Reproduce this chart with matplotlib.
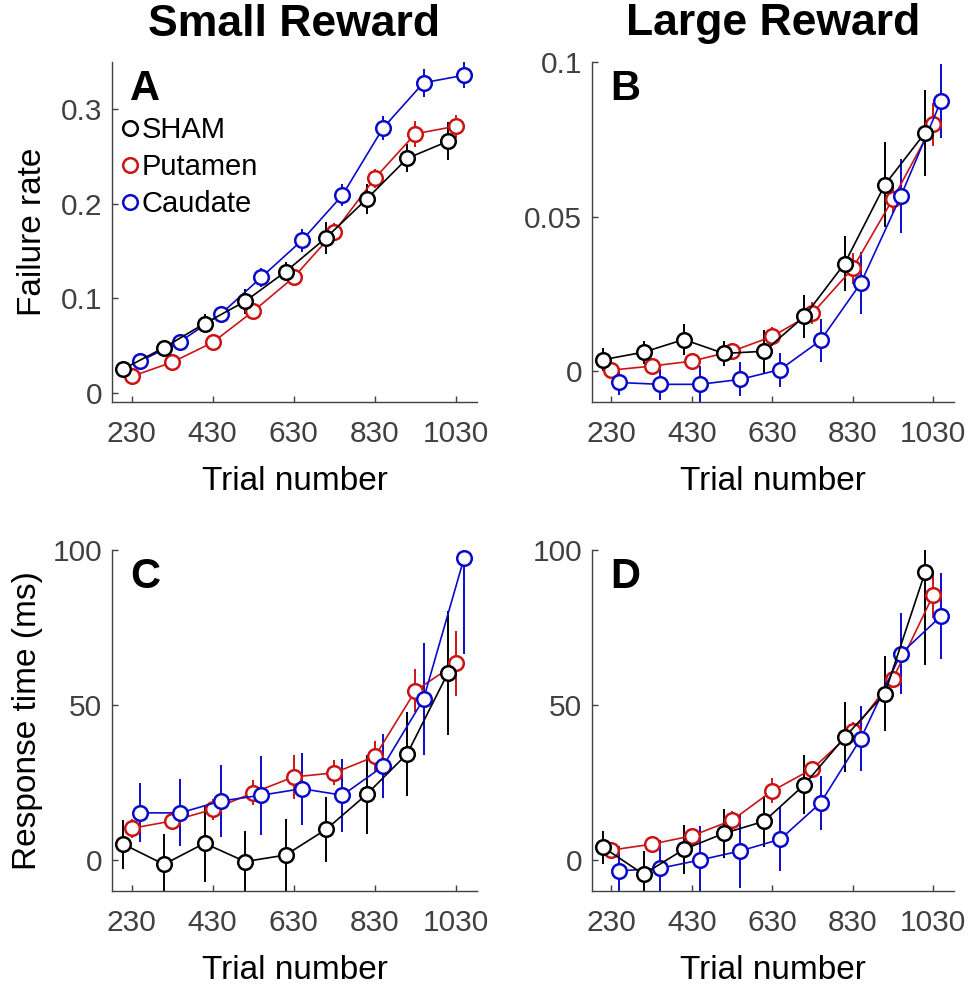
import matplotlib
matplotlib.use("Agg")
from matplotlib import pyplot as plt
from matplotlib.lines import Line2D
import numpy as np

plt.rcParams['font.family'] = ['Liberation Sans', 'DejaVu Sans']

trials = np.array([230, 330, 430, 530, 630, 730, 830, 930, 1030])
offsets = {"SHAM": -20, "Putamen": 0, "Caudate": 20}
colors = {"SHAM": "black", "Putamen": "#CC1414", "Caudate": "#0A0ACC"}

# Failure rate, small reward (A)
fail_small = {
    "SHAM": [0.025, 0.0475, 0.073, 0.0965, 0.128, 0.164, 0.205, 0.248, 0.266],
    "Putamen": [0.017, 0.032, 0.053, 0.086, 0.122, 0.170, 0.227, 0.274, 0.282],
    "Caudate": [0.033, 0.054, 0.083, 0.122, 0.161, 0.209, 0.280, 0.328, 0.336],
}
fail_small_err = {
    "SHAM": [0.005, 0.006, 0.010, 0.013, 0.010, 0.017, 0.016, 0.015, 0.020],
    "Putamen": [0.005, 0.005, 0.006, 0.007, 0.008, 0.009, 0.010, 0.014, 0.012],
    "Caudate": [0.006, 0.006, 0.007, 0.010, 0.012, 0.012, 0.013, 0.015, 0.014],
}

# Failure rate, large reward (B)
fail_large = {
    "SHAM": [0.0037, 0.0061, 0.0102, 0.0057, 0.0064, 0.0177, 0.0348, 0.0603, 0.0771],
    "Putamen": [0.0003, 0.0016, 0.0032, 0.0064, 0.0112, 0.0187, 0.0332, 0.0557, 0.0798],
    "Caudate": [-0.0037, -0.0043, -0.0043, -0.0027, 0.0005, 0.0099, 0.0284, 0.0567, 0.0875],
}
fail_large_err = {
    "SHAM": [0.0037, 0.0037, 0.005, 0.004, 0.007, 0.007, 0.009, 0.0137, 0.014],
    "Putamen": [0.002, 0.002, 0.002, 0.0025, 0.003, 0.0035, 0.005, 0.0045, 0.007],
    "Caudate": [0.004, 0.005, 0.006, 0.0055, 0.0055, 0.007, 0.010, 0.012, 0.012],
}

# Response time, small reward (C)
rt_small = {
    "SHAM": [5.1, -1.4, 5.4, -0.5, 1.6, 9.9, 21.2, 34.3, 60.3],
    "Putamen": [10.2, 12.6, 16.3, 21.7, 26.8, 28.1, 33.4, 54.6, 63.4],
    "Caudate": [15.2, 15.2, 19.0, 20.9, 23.0, 20.9, 30.2, 51.9, 97.4],
}
rt_small_err = {
    "SHAM": [7.9, 9.7, 12.5, 9.7, 11.5, 10.5, 12.8, 13.5, 20.0],
    "Putamen": [3.0, 3.0, 3.5, 4.0, 7.0, 4.0, 5.0, 7.0, 10.5],
    "Caudate": [9.5, 10.8, 11.5, 12.8, 11.6, 11.8, 10.3, 18.0, 31.0],
}

# Response time, large reward (D)
rt_large = {
    "SHAM": [4.1, -4.6, 3.4, 8.6, 12.5, 24.3, 39.6, 53.7, 92.8],
    "Putamen": [3.2, 5.1, 7.8, 12.8, 22.3, 29.4, 41.5, 58.4, 85.4],
    "Caudate": [-3.5, -2.7, 0.0, 2.9, 6.7, 18.4, 39.1, 66.6, 78.7],
}
rt_large_err = {
    "SHAM": [5.3, 7.5, 7.8, 8.0, 8.3, 9.5, 11.3, 12.0, 30.0],
    "Putamen": [2.5, 2.5, 2.5, 3.0, 4.0, 2.5, 3.0, 3.0, 7.5],
    "Caudate": [8.0, 9.0, 11.0, 12.0, 10.3, 8.8, 10.5, 13.0, 13.8],
}

gray = "#404040"

fig = plt.figure(figsize=(9.76, 9.92), dpi=100)
positions = [
    [0.1148, 0.5948, 0.374, 0.3427],
    [0.6066, 0.5948, 0.3709, 0.3427],
    [0.1148, 0.1018, 0.374, 0.3438],
    [0.6066, 0.1018, 0.3709, 0.3438],
]
panels = [
    ("A", fail_small, fail_small_err, (-0.01, 0.35), [0, 0.1, 0.2, 0.3], ["0", "0.1", "0.2", "0.3"]),
    ("B", fail_large, fail_large_err, (-0.01, 0.1), [0, 0.05, 0.1], ["0", "0.05", "0.1"]),
    ("C", rt_small, rt_small_err, (-10, 100), [0, 50, 100], ["0", "50", "100"]),
    ("D", rt_large, rt_large_err, (-10, 100), [0, 50, 100], ["0", "50", "100"]),
]

axes = []
for pos, (letter, vals, errs, ylim, yticks, yticklabels) in zip(positions, panels):
    ax = fig.add_axes(pos)
    for name in ["Putamen", "Caudate", "SHAM"]:
        ax.errorbar(trials + offsets[name], vals[name], yerr=errs[name],
                    color=colors[name], lw=1.2, elinewidth=1.4, capsize=0,
                    marker="o", ms=10.5, mew=1.8, mfc="white", mec=colors[name])
    ax.set_xlim(182, 1082)
    ax.set_ylim(*ylim)
    ax.set_xticks(trials[::2])
    ax.set_yticks(yticks)
    ax.set_yticklabels(yticklabels)
    ax.spines["top"].set_visible(False)
    ax.spines["right"].set_visible(False)
    for s in ["left", "bottom"]:
        ax.spines[s].set_color(gray)
        ax.spines[s].set_linewidth(1.0)
    ax.tick_params(direction="in", length=4, width=1, color=gray,
                   labelcolor=gray, labelsize=21.5)
    ax.tick_params(axis="x", pad=13)
    ax.tick_params(axis="y", pad=7)
    ax.set_xlabel("Trial number", fontsize=24, labelpad=13)
    ax.text(0.05, 0.98, letter, transform=ax.transAxes, fontsize=30,
            fontweight="bold", va="top", ha="left")
    axes.append(ax)

axes[0].set_ylabel("Failure rate", fontsize=24)
axes[2].set_ylabel("Response time (ms)", fontsize=24)
axes[0].yaxis.set_label_coords(-0.175, 0.5)
axes[2].yaxis.set_label_coords(-0.19, 0.5)

handles = [Line2D([], [], ls="none", marker="o", ms=10.5, mew=1.8, mfc="white",
                  mec=colors[n]) for n in ["SHAM", "Putamen", "Caudate"]]
axes[0].legend(handles, ["SHAM", "Putamen", "Caudate"], loc="upper left",
               bbox_to_anchor=(0.022, 0.84), frameon=False, fontsize=21,
               handlelength=0.7, handletextpad=0.05, borderpad=0,
               labelspacing=0.3, borderaxespad=0)

fig.text(294 / 976, 1 - 24 / 992, "Small Reward", fontsize=32, fontweight="bold",
         ha="center", va="center")
fig.text(773 / 976, 1 - 24 / 992, "Large Reward", fontsize=32, fontweight="bold",
         ha="center", va="center")

fig.savefig("out.png", dpi=100)
